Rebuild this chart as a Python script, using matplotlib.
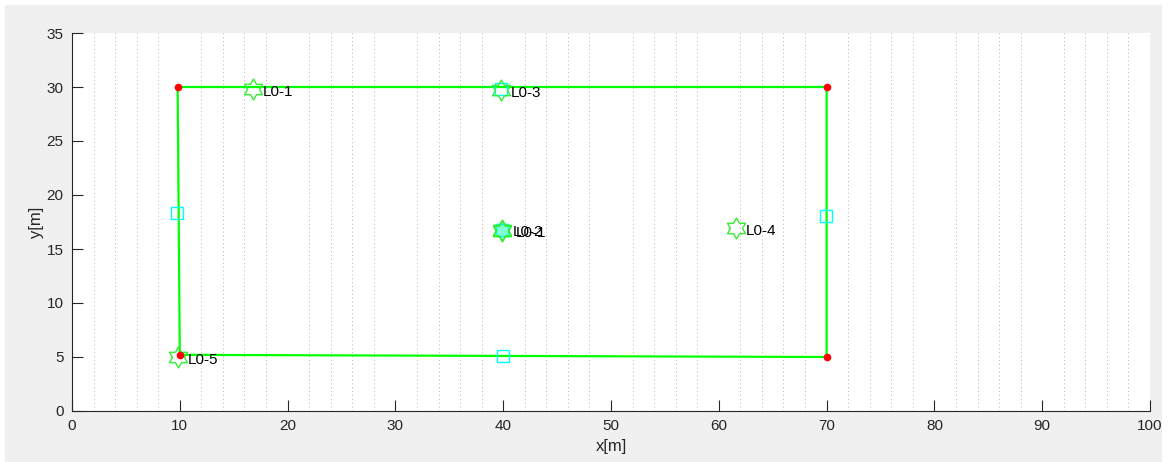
import numpy as np
import matplotlib
matplotlib.use('Agg')
import matplotlib.pyplot as plt
from matplotlib.path import Path

# Boundary polyline (corners)
edge_x = [9.8, 70.0, 70.0, 10.0, 9.8]
edge_y = [30.0, 30.0, 5.0, 5.2, 30.0]

# Anchor points (star markers) with labels
anchor_x = [16.8, 39.8, 39.9, 39.9, 61.6, 9.8]
anchor_y = [29.8, 29.7, 16.8, 16.7, 16.9, 5.0]
anchor_lbl = ['L0-1', 'L0-3', 'L0-2', 'L0-1', 'L0-4', 'L0-5']

# Square markers
sq_x = [9.7, 69.9, 40.0, 39.8, 39.9]
sq_y = [18.3, 18.1, 5.1, 29.8, 16.8]

AX_COLOR = '#262626'
BG = '#f0f0f0'

plt.rcParams['font.family'] = ['Liberation Sans', 'DejaVu Sans']

# hexagram marker, point up
ang_out = np.pi / 2 + np.arange(6) * np.pi / 3
ang_in = ang_out + np.pi / 6
r_in = 1 / np.sqrt(3)
verts = []
for a, b in zip(ang_out, ang_in):
    verts.append((np.cos(a), np.sin(a)))
    verts.append((r_in * np.cos(b), r_in * np.sin(b)))
verts.append(verts[0])
hexagram = Path(verts, closed=True)

fig = plt.figure(figsize=(11.74, 4.62), dpi=100, facecolor='white')
fig.patches.append(plt.Rectangle((5 / 1174, 0), 1156 / 1174, 457 / 462,
                                 transform=fig.transFigure, color=BG, zorder=-10))
ax = fig.add_axes([72 / 1174, (462 - 411) / 462, 1078 / 1174, 378 / 462])
ax.set_facecolor('white')

ax.plot(edge_x, edge_y, color='#00ff00', lw=1.6, zorder=2)
ax.plot(edge_x[:4], edge_y[:4], 'o', color='red', ms=4.5, zorder=4)

ax.plot(sq_x, sq_y, 's', mfc='none', mec='#00ffff', ms=8, mew=1, zorder=3)
ax.plot([sq_x[-1]], [sq_y[-1]], 's', mfc='#7fffd4', mec='#00ffff', ms=8, mew=1, zorder=3)

ax.plot(anchor_x, anchor_y, marker=hexagram, ls='none', mfc='none',
        mec='#33ee33', ms=15, mew=1, zorder=3)
offs = [(7, -2), (7, -2), (8, -2), (10, -2), (7, -2), (7, -2)]
for x, y, t, o in zip(anchor_x, anchor_y, anchor_lbl, offs):
    ax.annotate(t, (x, y), xytext=o, textcoords='offset points',
                fontsize=11, color='black', va='center', ha='left', zorder=5)

ax.set_xlim(0, 100)
ax.set_ylim(0, 35)
ax.set_xticks(np.arange(0, 101, 10))
ax.set_yticks(np.arange(0, 36, 5))
ax.set_xticks(np.arange(0, 101, 2), minor=True)
ax.grid(True, which='minor', axis='x', ls=(0, (1, 3)), lw=0.7, color='#b4b4b4')
ax.tick_params(which='major', direction='in', length=8, width=0.8,
               colors=AX_COLOR, labelsize=11, pad=6)
ax.tick_params(which='minor', length=0)
for s in ['top', 'right']:
    ax.spines[s].set_visible(False)
for s in ['left', 'bottom']:
    ax.spines[s].set_color(AX_COLOR)
    ax.spines[s].set_linewidth(0.8)

ax.set_xlabel('x[m]', fontsize=12, color=AX_COLOR, labelpad=4)
ax.set_ylabel('y[m]', fontsize=12, color=AX_COLOR, labelpad=2)

fig.savefig('out.png', dpi=100, facecolor='white')
